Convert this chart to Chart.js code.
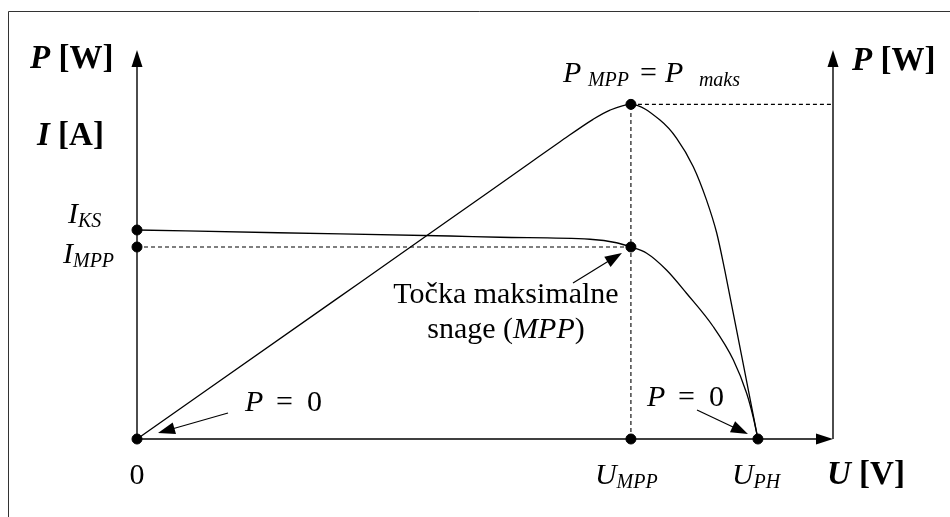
<!DOCTYPE html>
<html>
<head>
<meta charset="utf-8">
<script src="https://cdn.jsdelivr.net/npm/chart.js@4.4.1/dist/chart.umd.min.js"></script>
<style>
  html, body { margin: 0; padding: 0; background: #fff; }
  #wrap { width: 950px; height: 517px; }
</style>
</head>
<body>
<div id="wrap"><canvas id="pvChart" width="950" height="517"></canvas></div>
<script>
// characteristic points (U in V, I in A, P in W)
const U_MPP = 17.5, U_PH = 22;
const I_KS = 8.36, I_MPP = 7.68, P_MPP = 134.2;
const U_MAX = 24.66, I_MAX = 15.56, P_MAX = 156;

// I-U curve
const uCurrent = [0, 5, 11.09, 12.86, 16.05, 16.99, 17.5, 18.06, 18.76, 19.47, 20.42, 21.13, 21.6, 21.83, 22];
const iCurrent = [8.36, 8.25, 8.12, 8.07, 7.99, 7.85, 7.68, 7.43, 6.76, 5.83, 4.49, 3.16, 1.83, 0.89, 0];

// P-U curve
const uPower = [0, 7, 11, 13.92, 14.99, 16.16, 16.76, 17.5, 18.53, 19.12, 19.71, 20.18, 20.54, 20.83, 21.42, 22];
const pPower = [0, 55.6, 87.4, 110.7, 119.2, 128.2, 131.9, 134.2, 127.9, 120.6, 109.2, 95.8, 82.6, 67.4, 33.5, 0];

const serif = '"Liberation Serif", "Times New Roman", serif';

function pts(xs, ys) {
    return xs.map((x, i) => ({ x: x, y: ys[i] }));
}

// draws a run of text pieces (with sub-scripts); p.at = fixed offset from start
function richText(ctx, x, y, parts, align) {
    let w = 0;
    parts.forEach(p => {
        ctx.font = p.f;
        const pw = ctx.measureText(p.t).width;
        w = p.at !== undefined ? p.at + pw : w + pw;
    });
    if (align === 'center') x -= w / 2;
    let cx = x;
    parts.forEach(p => {
        ctx.font = p.f;
        if (p.at !== undefined) cx = x + p.at;
        ctx.fillText(p.t, cx, y + (p.dy || 0));
        cx += ctx.measureText(p.t).width;
    });
}

function arrow(ctx, x1, y1, x2, y2, len, half) {
    const a = Math.atan2(y2 - y1, x2 - x1);
    ctx.beginPath();
    ctx.moveTo(x1, y1);
    ctx.lineTo(x2 - Math.cos(a) * len * 0.8, y2 - Math.sin(a) * len * 0.8);
    ctx.stroke();
    ctx.beginPath();
    ctx.moveTo(x2, y2);
    ctx.lineTo(x2 - Math.cos(a) * len - Math.sin(a) * half, y2 - Math.sin(a) * len + Math.cos(a) * half);
    ctx.lineTo(x2 - Math.cos(a) * len + Math.sin(a) * half, y2 - Math.sin(a) * len - Math.cos(a) * half);
    ctx.closePath();
    ctx.fill();
}

const axesPlugin = {
    id: 'axesPlugin',
    beforeDatasetsDraw(chart) {
        const ctx = chart.ctx, a = chart.chartArea;
        ctx.save();
        ctx.fillStyle = '#000';
        // frame (top and left edges only)
        ctx.lineWidth = 1;
        ctx.strokeStyle = '#333';
        ctx.beginPath();
        ctx.moveTo(8.5, 517);
        ctx.lineTo(8.5, 11.5);
        ctx.lineTo(950, 11.5);
        ctx.stroke();
        ctx.strokeStyle = '#000';
        ctx.lineWidth = 1.4;
        // left axis, x axis, right axis
        arrow(ctx, a.left, a.bottom, a.left, a.top, 17, 5.5);
        arrow(ctx, a.left, a.bottom, a.right, a.bottom, 17, 5.5);
        arrow(ctx, a.right, a.bottom, a.right, a.top, 17, 5.5);
        ctx.restore();
    },
    afterDraw(chart) {
        const ctx = chart.ctx, a = chart.chartArea;
        const x = chart.scales.x, yI = chart.scales.yI, yP = chart.scales.yP;
        const big = '30px ' + serif, it = 'italic 30px ' + serif, sub = 'italic 20px ' + serif;
        const bold = 'bold 33px ' + serif, boldIt = 'italic bold 33px ' + serif;
        ctx.save();
        ctx.fillStyle = '#000';
        ctx.strokeStyle = '#000';
        ctx.textBaseline = 'alphabetic';

        // axis titles
        richText(ctx, a.left - 107, a.top + 18, [{ t: 'P', f: boldIt }, { t: ' [W]', f: bold }]);
        richText(ctx, a.left - 100, a.top + 95, [{ t: 'I', f: boldIt }, { t: ' [A]', f: bold }]);
        richText(ctx, a.right + 19, a.top + 20, [{ t: 'P', f: boldIt }, { t: ' [W]', f: bold }]);
        richText(ctx, a.right - 6, a.bottom + 45, [{ t: 'U', f: boldIt }, { t: ' [V]', f: bold }]);

        // point labels
        const xm = x.getPixelForValue(U_MPP), xo = x.getPixelForValue(U_PH), x0 = x.getPixelForValue(0);
        richText(ctx, xm - 68, yP.getPixelForValue(P_MPP) - 22, [
            { t: 'P', f: it }, { t: 'MPP', f: sub, dy: 4, at: 25 }, { t: '=', f: big, at: 77 },
            { t: 'P', f: it, at: 102 }, { t: 'maks', f: sub, dy: 4, at: 136 }]);
        richText(ctx, 68, yI.getPixelForValue(I_KS) - 7, [{ t: 'I', f: it }, { t: 'KS', f: sub, dy: 4 }]);
        richText(ctx, 63, yI.getPixelForValue(I_MPP) + 16, [{ t: 'I', f: it }, { t: 'MPP', f: sub, dy: 4 }]);
        richText(ctx, x0, a.bottom + 45, [{ t: '0', f: big }], 'center');
        richText(ctx, xm - 36, a.bottom + 45, [{ t: 'U', f: it }, { t: 'MPP', f: sub, dy: 4 }]);
        richText(ctx, xo - 26, a.bottom + 45, [{ t: 'U', f: it }, { t: 'PH', f: sub, dy: 4 }]);

        // annotation for MPP
        const yMpp = yI.getPixelForValue(I_MPP);
        richText(ctx, 506, yMpp + 56, [{ t: 'Točka maksimalne', f: big }], 'center');
        richText(ctx, 506, yMpp + 91, [{ t: 'snage (', f: big }, { t: 'MPP', f: it }, { t: ')', f: big }], 'center');
        ctx.lineWidth = 1.2;
        arrow(ctx, 573, yMpp + 36, xm - 9, yMpp + 6, 17, 6);

        // P = 0 labels with arrows
        const pZero = [{ t: 'P', f: it }, { t: '=', f: big, at: 31 }, { t: '0', f: big, at: 62 }];
        richText(ctx, 245, a.bottom - 28, pZero);
        arrow(ctx, 228, a.bottom - 26, x0 + 21, a.bottom - 6, 17, 6);
        richText(ctx, 647, a.bottom - 33, pZero);
        arrow(ctx, 697, a.bottom - 29, xo - 10, a.bottom - 5, 17, 6);
        ctx.restore();
    }
};

const dash = [4, 3];

new Chart(document.getElementById('pvChart').getContext('2d'), {
    type: 'line',
    data: {
        datasets: [
            {
                label: 'I(U)',
                data: pts(uCurrent, iCurrent),
                yAxisID: 'yI',
                borderColor: '#000',
                borderWidth: 1.3,
                pointRadius: 0,
                cubicInterpolationMode: 'monotone'
            },
            {
                label: 'P(U)',
                data: pts(uPower, pPower),
                yAxisID: 'yP',
                borderColor: '#000',
                borderWidth: 1.3,
                pointRadius: 0,
                cubicInterpolationMode: 'monotone'
            },
            {
                label: 'I_MPP',
                data: pts([0, U_MPP], [I_MPP, I_MPP]),
                yAxisID: 'yI',
                borderColor: '#000',
                borderWidth: 1.1,
                borderDash: dash,
                pointRadius: 0
            },
            {
                label: 'U_MPP',
                data: pts([U_MPP, U_MPP], [0, P_MPP]),
                yAxisID: 'yP',
                borderColor: '#000',
                borderWidth: 1.1,
                borderDash: dash,
                pointRadius: 0
            },
            {
                label: 'P_MPP',
                data: pts([U_MPP, U_MAX], [P_MPP, P_MPP]),
                yAxisID: 'yP',
                borderColor: '#000',
                borderWidth: 1.1,
                borderDash: dash,
                pointRadius: 0
            },
            {
                label: 'points I',
                data: pts([0, 0, 0, U_MPP, U_MPP, U_PH], [0, I_KS, I_MPP, I_MPP, 0, 0]),
                yAxisID: 'yI',
                showLine: false,
                clip: false,
                pointRadius: 5,
                pointBackgroundColor: '#000',
                pointBorderColor: '#000'
            },
            {
                label: 'point P',
                data: pts([U_MPP], [P_MPP]),
                yAxisID: 'yP',
                showLine: false,
                clip: false,
                pointRadius: 5,
                pointBackgroundColor: '#000',
                pointBorderColor: '#000'
            }
        ]
    },
    options: {
        responsive: false,
        animation: false,
        layout: {
            padding: { left: 137, right: 117, top: 50, bottom: 78 }
        },
        plugins: {
            legend: { display: false },
            tooltip: { enabled: false }
        },
        scales: {
            x: { type: 'linear', min: 0, max: U_MAX, display: false },
            yI: { type: 'linear', min: 0, max: I_MAX, display: false },
            yP: { type: 'linear', min: 0, max: P_MAX, display: false }
        },
        elements: { point: { hitRadius: 0 } }
    },
    plugins: [axesPlugin]
});
</script>
</body>
</html>
